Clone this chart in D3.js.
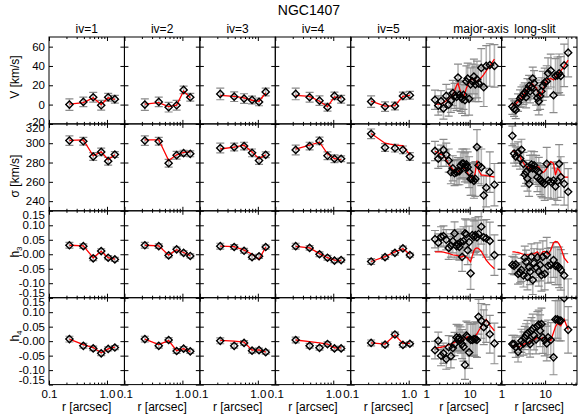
<!DOCTYPE html>
<html><head><meta charset="utf-8">
<script src="https://cdn.jsdelivr.net/npm/d3@7"></script>
<style>
body{margin:0;background:#fff}
text{font-family:"Liberation Sans",Arial,sans-serif;fill:#000}
</style>
</head><body>
<svg id="c" width="580" height="414"></svg>
<script>
// ---------------- DATA ----------------
const title = "NGC1407";
const colTitles = ["iv=1","iv=2","iv=3","iv=4","iv=5"];
const rowTitles = ["V [km/s]","σ [km/s]","h3","h4"];

// IFU bins (iv panels) radii [arcsec]
const ivR = [0.225, 0.391, 0.579, 0.795, 1.049, 1.367];

const ivV    = [[0, 2.8, 7.6, -0.7, 7.6, 5.6],[0, 2.8, -2.7, -0.7, 15.2, 7.6],[11, 8.2, 6.2, 4.8, 2.8, 13.1],[11, 7.6, 4.1, -2.7, 9, 5.6],[3.1, -2.1, -1.4, 9, 9.7]];
const ivVErr = [[6, 5, 5, 5, 4, 4],[6, 5, 5, 5, 4, 4],[6, 5, 5, 4, 4, 4],[6, 5, 5, 4, 4, 4],[6, 5, 4, 4, 4]];
const ivVMod = [[0.5, 2, 7, 0, 7, 5.5],[0.5, 2, -2, -0.5, 14, 7],[9.5, 8.5, 7, 4.5, 3.5, 12],[9.5, 8.5, 3.5, -2, 8, 7],[3.5, -1.5, -1, 8.5, 9.5]];

const ivS    = [[302.7, 302, 286.2, 291, 281.4, 288.2],[302.7, 302, 279.3, 287.6, 289.7, 289],[295, 296, 297, 290, 282, 288],[293, 297, 302.4, 287, 283.9, 283.9],[309.7, 295.5, 294.9, 293.1, 286.2]];
const ivSErr = [[5, 4, 4, 4, 4, 3],[5, 4, 4, 4, 3, 3],[5, 4, 4, 4, 4, 3],[5, 4, 4, 4, 4, 3],[5, 4, 4, 4, 4]];
const ivSMod = [[303, 303.5, 287, 291, 283, 288],[303.5, 303.5, 282, 288, 290.5, 291],[294, 296, 298, 291, 284, 288],[294, 298, 301, 289, 284, 283],[310, 300, 298, 297.6, 288]];

const ivH3    = [[0.031, 0.028, -0.014, 0.011, -0.012, -0.018],[0.031, 0.028, -0.004, 0.017, 0.005, -0.006],[0.028, 0.025, 0.012, -0.01, -0.007, 0.025],[0.028, 0.022, 0.0, -0.012, -0.022, -0.02],[-0.025, -0.01, 0.005, 0.02, -0.003]];
const ivH3Err = [[0.01, 0.008, 0.008, 0.008, 0.007, 0.007],[0.01, 0.008, 0.008, 0.008, 0.007, 0.007],[0.01, 0.008, 0.008, 0.008, 0.007, 0.007],[0.01, 0.008, 0.008, 0.008, 0.007, 0.007],[0.01, 0.008, 0.008, 0.008, 0.007]];
const ivH3Mod = [[0.031, 0.029, -0.012, 0.01, -0.012, -0.017],[0.031, 0.029, -0.003, 0.016, 0.006, -0.005],[0.028, 0.026, 0.014, 0.0, -0.018, 0.025],[0.027, 0.022, 0.002, -0.012, -0.02, -0.021],[-0.025, -0.008, 0.008, 0.019, 0.0]];

const ivH4    = [[0.007, -0.016, -0.025, -0.042, -0.027, -0.022],[0.007, -0.016, 0.004, -0.034, -0.026, -0.035],[0.001, -0.016, -0.006, -0.033, -0.031, -0.038],[0.004, -0.016, -0.023, -0.01, -0.025, -0.025],[-0.006, -0.012, 0.023, -0.013, -0.009]];
const ivH4Err = [[0.01, 0.008, 0.008, 0.008, 0.007, 0.007],[0.01, 0.008, 0.008, 0.008, 0.007, 0.007],[0.01, 0.008, 0.008, 0.008, 0.007, 0.007],[0.01, 0.008, 0.008, 0.008, 0.007, 0.007],[0.01, 0.008, 0.008, 0.008, 0.007]];
const ivH4Mod = [[0.007, -0.012, -0.022, -0.04, -0.027, -0.021],[0.007, -0.012, 0.002, -0.033, -0.026, -0.036],[0.003, 0.0, -0.003, -0.031, -0.03, -0.038],[0.004, -0.002, -0.006, -0.01, -0.023, -0.023],[-0.006, -0.01, 0.021, -0.008, -0.008]];

// major-axis and long-slit
const majR = [1.6, 1.9, 2.2, 2.5, 2.9, 3.3, 3.7, 4.1, 4.5, 5.0, 5.4, 5.8, 6.2, 6.7, 7.2, 7.8, 8.4, 9.0, 9.7, 10.5, 11.5, 12.5, 13.5, 14.7, 16.0, 18.5, 21, 24, 29, 37];
const majV    = [5, -1, 3.5, -4, 9, 0, 4, 12, 9, 8, 28, 10, 8, 6, 10, 4.5, 24, 27, 6, 21, 24, 29, 21, 26, 22, 38, 18, 40, 41, 40];
const majVErr = [10, 10, 11, 11, 12, 12, 12, 13, 13, 14, 14, 14, 15, 15, 15, 16, 16, 16, 17, 17, 18, 18, 18, 19, 19, 20, 20, 21, 22, 22];
const majVMod = [0.4, 0.4, 0.5, 2, 4, 5.5, 8, 10, 14, 20, 22, 17, 13, 10, 7.2, 12, 17, 20, 23, 26, 26, 27, 25, 23, 25, 28, 31, 35, 40, 47];
const majS    = [292, 284, 287, 293, 288, 282, 270, 274, 269, 270, 271, 271, 277, 279, 279, 275, 278, 275, 270, 263, 263, 261, 263, 296, 277, 275, 246, 254, 270, 257];
const majSErr = [10, 10, 11, 11, 12, 12, 12, 13, 13, 13, 14, 14, 14, 15, 15, 15, 16, 16, 16, 17, 17, 18, 18, 18, 19, 19, 20, 20, 21, 22];
const majSMod = [291.5, 290, 288.5, 288, 283, 278, 275.5, 273, 271, 269.5, 270.5, 272, 273.5, 274, 274, 274, 272, 269, 267, 265.5, 263.5, 264.5, 270, 282, 272, 267, 267, 266.5, 266, 265];
const majH3    = [0.052, 0.040, 0.060, 0.063, 0.050, 0.022, 0.030, 0.045, 0.072, 0.028, 0.035, 0.025, 0.042, -0.009, 0.045, 0.072, 0.069, 0.014, 0.042, -0.066, 0.066, 0.060, 0.066, 0.058, 0.070, 0.095, 0.058, 0.055, 0.046, -0.003];
const majH3Err = [0.03, 0.03, 0.035, 0.035, 0.035, 0.04, 0.04, 0.04, 0.04, 0.045, 0.045, 0.045, 0.045, 0.05, 0.05, 0.05, 0.05, 0.05, 0.055, 0.055, 0.055, 0.055, 0.06, 0.06, 0.06, 0.06, 0.06, 0.065, 0.065, 0.07];
const majH3Mod = [0.008, 0.008, 0.008, 0.007, 0.005, 0.003, 0.0, -0.002, -0.003, -0.004, -0.005, -0.008, -0.01, -0.008, -0.006, -0.007, -0.01, -0.013, -0.02, -0.026, -0.005, 0.012, 0.02, 0.022, 0.02, 0.01, -0.005, -0.02, -0.035, -0.05];
const majH4    = [-0.031, 0.001, -0.05, -0.042, -0.062, -0.021, -0.052, -0.024, -0.01, 0.013, 0.008, 0.011, 0.004, -0.01, -0.019, -0.082, 0.019, 0.015, -0.039, 0.004, 0.004, 0.007, 0.007, 0.004, 0.084, 0.07, 0.048, 0.061, 0.024, -0.008];
const majH4Err = [0.03, 0.03, 0.035, 0.035, 0.035, 0.04, 0.04, 0.04, 0.04, 0.045, 0.045, 0.045, 0.045, 0.05, 0.05, 0.05, 0.05, 0.05, 0.055, 0.055, 0.055, 0.055, 0.06, 0.06, 0.06, 0.06, 0.06, 0.065, 0.065, 0.07];
const majH4Mod = [-0.024, -0.022, -0.021, -0.019, -0.016, -0.012, -0.01, -0.007, -0.004, 0.0, 0.001, 0.0, -0.001, 0.002, 0.005, 0.008, 0.012, 0.015, 0.011, 0.008, 0.01, 0.011, 0.018, 0.025, 0.035, 0.05, 0.063, 0.075, 0.055, 0.036];

const longR = [1.77, 1.94, 2.12, 2.39, 2.66, 2.86, 3.18, 3.41, 3.66, 3.93, 4.29, 4.52, 4.85, 5.2, 5.58, 6.21, 6.66, 7.15, 7.67, 8.24, 8.84, 9.8, 10.9, 11.7, 13.5, 15.6, 17.3, 19.2, 21, 22.9, 27.4, 33.8];
const longV    = [-2.1, -4.2, -5.5, 2.0, 6.2, 8.3, 10.3, 12.4, 7.6, 15.9, 19.3, 13.8, 17.9, 26.9, 22.1, 12.4, 6.9, 3.4, 9.0, 13.8, 19.3, 22.8, 24.2, 32.4, 35.2, 9.7, 29.7, 30.3, 32.4, 29.7, 40.7, 53.8];
const longVErr = [8, 8, 9, 9, 9, 10, 10, 10, 11, 11, 11, 12, 12, 12, 13, 13, 13, 14, 14, 14, 15, 15, 16, 16, 17, 18, 18, 19, 20, 20, 22, 25];
const longVMod = [-0.5, 0, 1, 3, 5.5, 7.5, 10, 12, 14, 16, 18, 20, 22, 21, 19.5, 17.5, 14.5, 11, 8.5, 11, 14, 20, 25.5, 26.5, 27, 25.5, 28.5, 31, 33, 35, 39.5, 46];
const longS    = [307.6, 289.3, 286.2, 290.3, 284.1, 293.1, 278.6, 267.6, 270.3, 263.4, 257.9, 274.5, 277.9, 273.8, 277.2, 272.4, 264.8, 270.3, 262.8, 260.7, 259.3, 257.9, 278.6, 261.4, 260, 261.4, 255.2, 260.7, 278.6, 265, 257.9, 249.7];
const longSErr = [10, 10, 10, 11, 11, 11, 12, 12, 12, 13, 13, 13, 14, 14, 14, 15, 15, 15, 16, 16, 16, 17, 17, 18, 18, 19, 19, 20, 20, 21, 22, 24];
const longSMod = [292.5, 291.5, 290, 288, 286, 283, 279.5, 277.5, 276, 275, 274, 273.5, 273.5, 273.5, 274, 275, 275.5, 275.5, 273, 271, 269.5, 271, 274, 277, 281, 279, 267, 274, 272, 269, 265, 264.8];
const longH3    = [-0.037, -0.04, -0.035, -0.068, -0.064, -0.054, -0.073, -0.012, -0.026, -0.078, -0.045, -0.06, -0.009, -0.089, -0.031, -0.045, -0.011, -0.06, -0.037, -0.072, -0.009, -0.068, -0.002, -0.04, -0.037, -0.02, -0.04, -0.04, -0.045, -0.054, -0.073, -0.165];
const longH3Err = [0.03, 0.03, 0.035, 0.035, 0.035, 0.04, 0.04, 0.04, 0.04, 0.045, 0.045, 0.045, 0.045, 0.05, 0.05, 0.05, 0.05, 0.05, 0.055, 0.055, 0.055, 0.055, 0.06, 0.06, 0.06, 0.06, 0.065, 0.065, 0.07, 0.07, 0.075, 0.08];
const longH3Mod = [0.008, 0.008, 0.007, 0.006, 0.004, 0.002, 0.0, -0.002, -0.002, -0.002, -0.001, 0.0, 0.001, 0.001, 0.001, 0.006, 0.008, 0.0, -0.007, 0.002, 0.008, 0.01, 0.005, 0.0, 0.015, 0.04, 0.044, 0.043, 0.035, 0.024, -0.013, -0.03];
const longH4    = [-0.01, -0.01, -0.021, -0.037, -0.017, 0.001, -0.008, 0.011, 0.02, 0.027, 0.001, -0.01, 0.036, 0.043, 0.02, 0.006, 0.052, 0.057, 0.036, 0.059, 0.013, 0.004, -0.008, 0.013, 0.004, -0.056, 0.075, 0.075, 0.071, 0.071, 0.148, 0.039];
const longH4Err = [0.03, 0.03, 0.035, 0.035, 0.035, 0.04, 0.04, 0.04, 0.04, 0.045, 0.045, 0.045, 0.045, 0.05, 0.05, 0.05, 0.05, 0.05, 0.055, 0.055, 0.055, 0.055, 0.06, 0.06, 0.06, 0.06, 0.065, 0.065, 0.07, 0.07, 0.075, 0.08];
const longH4Mod = [-0.016, -0.016, -0.017, -0.019, -0.018, -0.015, -0.011, -0.009, -0.007, -0.005, -0.004, -0.002, 0.0, 0.002, 0.004, 0.009, 0.013, 0.011, 0.008, 0.009, 0.012, 0.012, 0.004, 0.006, 0.002, 0.03, 0.05, 0.061, 0.057, 0.053, 0.075, 0.04];

const rowDomains = [[-20, 70], [230, 320], [-0.15, 0.15], [-0.15, 0.15]];
const rowMajor = [[-20, 0, 20, 40, 60], [240, 260, 280, 300, 320], [-0.15, -0.10, -0.05, 0, 0.05, 0.10, 0.15], [-0.15, -0.10, -0.05, 0, 0.05, 0.10, 0.15]];
const ivXMajor = [0.1, 1.0], ivXMinor = [0.2, 0.3, 0.4, 0.5, 0.6, 0.7, 0.8, 0.9];
const lsXMajor = [1, 10], lsXMinor = [2, 3, 4, 5, 6, 7, 8, 9, 20, 30, 40, 50];

// ---------------- LAYOUT ----------------
const svg = d3.select("#c");
const L = 49, T = 37, R = 577, B = 384.6;
const pw = (R - L) / 7, ph = (B - T) / 4;

function panelData(c, r) {
  if (c < 5) {
    const sets = [[ivV, ivVErr, ivVMod], [ivS, ivSErr, ivSMod], [ivH3, ivH3Err, ivH3Mod], [ivH4, ivH4Err, ivH4Mod]][r];
    const v = sets[0][c];
    return v.map((d, i) => ({x: ivR[i], y: d, e: sets[1][c][i], m: sets[2][c][i]}));
  }
  const xs = c === 5 ? majR : longR;
  const sets = c === 5
    ? [[majV, majVErr, majVMod], [majS, majSErr, majSMod], [majH3, majH3Err, majH3Mod], [majH4, majH4Err, majH4Mod]][r]
    : [[longV, longVErr, longVMod], [longS, longSErr, longSMod], [longH3, longH3Err, longH3Mod], [longH4, longH4Err, longH4Mod]][r];
  return xs.map((x, i) => ({x: x, y: sets[0][i], e: sets[1][i], m: sets[2][i]}));
}

const hFmt = d => (Math.abs(d) < 1e-9 ? "-0.00" : (d < 0 ? "-" : "") + Math.abs(d).toFixed(2));
const fmts = [d => String(d), d => String(d), hFmt, hFmt];

const defs = svg.append("defs");
const diamond = d3.symbol(d3.symbolSquare, 26);

for (let c = 0; c < 7; c++) {
  const x0 = L + c * pw;
  const xs = (c < 5 ? d3.scaleLog().domain([0.1, 2]) : d3.scaleLog().domain([1, 54])).range([x0, x0 + pw]);
  const xMaj = c < 5 ? ivXMajor : lsXMajor, xMin = c < 5 ? ivXMinor : lsXMinor;
  for (let r = 0; r < 4; r++) {
    const y0 = T + r * ph;
    const ys = d3.scaleLinear().domain(rowDomains[r]).range([y0 + ph, y0]);
    const id = `cl${c}_${r}`;
    defs.append("clipPath").attr("id", id).append("rect").attr("x", x0).attr("y", y0).attr("width", pw).attr("height", ph);
    const g = svg.append("g").attr("clip-path", `url(#${id})`);
    const data = panelData(c, r);
    // error bars
    g.selectAll("line.eb").data(data).join("line").attr("class", "eb")
      .attr("x1", d => xs(d.x)).attr("x2", d => xs(d.x))
      .attr("y1", d => ys(d.y - d.e)).attr("y2", d => ys(d.y + d.e))
      .attr("stroke", "#b4b4b4").attr("stroke-width", 1.6);
    ["lo", "hi"].forEach(k => {
      g.selectAll("line.cap" + k).data(data).join("line").attr("class", "cap" + k)
        .attr("x1", d => xs(d.x) - 4).attr("x2", d => xs(d.x) + 4)
        .attr("y1", d => ys(k === "lo" ? d.y - d.e : d.y + d.e)).attr("y2", d => ys(k === "lo" ? d.y - d.e : d.y + d.e))
        .attr("stroke", "#8a8a8a").attr("stroke-width", 1.2);
    });
    // model line
    g.append("path").datum(data)
      .attr("d", d3.line().x(d => xs(d.x)).y(d => ys(d.m)))
      .attr("fill", "none").attr("stroke", "#ff0000").attr("stroke-width", 1.3);
    // points
    g.selectAll("path.pt").data(data).join("path").attr("class", "pt")
      .attr("d", diamond)
      .attr("transform", d => `translate(${xs(d.x)},${ys(d.y)}) rotate(45)`)
      .attr("fill", "none").attr("stroke", "#000").attr("stroke-width", 1.4);

    // ticks (inward)
    const ax = svg.append("g");
    const addAxis = (axisFn, scale, vals, size, tx, ty, fmt, pad) => {
      const a = axisFn(scale).tickValues(vals).tickSize(size).tickPadding(pad || 3)
        .tickFormat(fmt || (() => ""));
      const gg = ax.append("g").attr("transform", `translate(${tx},${ty})`).call(a);
      gg.select(".domain").remove();
      gg.selectAll("line").attr("stroke", "#000").attr("stroke-width", 1);
      gg.selectAll("text").attr("font-size", 11.5).attr("font-family", "Liberation Sans, Arial, sans-serif").attr("fill", "#000");
      return gg;
    };
    const yl = addAxis(d3.axisLeft, ys, rowMajor[r], -4, x0, 0, c === 0 ? fmts[r] : null, 4);
    if (c === 0) {
      const dom = rowDomains[r];
      yl.selectAll(".tick text").attr("dy", d => {
        if (Math.abs(d - dom[1]) < 1e-9) return "0.32em";
        if (Math.abs(d - dom[0]) < 1e-9) return (r === 0 ? "0.15em" : "0.0em");
        return "0.32em";
      }).attr("transform", d => {
        if (Math.abs(d - dom[1]) < 1e-9) return "translate(0,4)";
        if (Math.abs(d - dom[0]) < 1e-9) return (r === 0 ? "translate(0,0)" : "translate(0,-1)");
        return null;
      });
    }
    addAxis(d3.axisRight, ys, rowMajor[r], -4, x0 + pw, 0);
    addAxis(d3.axisTop, xs, xMaj, -4, 0, y0);
    addAxis(d3.axisTop, xs, xMin, -2, 0, y0);
    addAxis(d3.axisBottom, xs, xMaj, -4, 0, y0 + ph, r === 3 ? (c < 5 ? d3.format(".1f") : d3.format("d")) : null, 5);
    addAxis(d3.axisBottom, xs, xMin, -2, 0, y0 + ph);

    svg.append("rect").attr("x", x0).attr("y", y0).attr("width", pw).attr("height", ph)
      .attr("fill", "none").attr("stroke", "#000").attr("stroke-width", 1);
  }
  // x title
  svg.append("text").attr("x", x0 + pw / 2).attr("y", 411).attr("text-anchor", "middle")
    .attr("font-size", 12).text("r [arcsec]");
  if (c < 5) svg.append("text").attr("x", x0 + pw / 2).attr("y", 33).attr("text-anchor", "middle")
    .attr("font-size", 12).text(colTitles[c]);
}

svg.append("text").attr("x", 481).attr("y", 33).attr("text-anchor", "middle").attr("font-size", 12).text("major-axis");
svg.append("text").attr("x", 535).attr("y", 33).attr("text-anchor", "middle").attr("font-size", 12).text("long-slit");
svg.append("text").attr("x", 309).attr("y", 15).attr("text-anchor", "middle").attr("font-size", 14).text(title);

// row titles
const rowTitleY = [77, 176, 252, 336];
rowTitles.forEach((t, r) => {
  const tx = svg.append("text").attr("transform", `translate(19,${rowTitleY[r]}) rotate(-90)`)
    .attr("text-anchor", "middle").attr("font-size", 12);
  if (r < 2) tx.text(t);
  else {
    tx.append("tspan").text("h");
    tx.append("tspan").attr("font-size", 8).attr("dy", 3).text(t.slice(1));
  }
});
</script>
</body></html>
